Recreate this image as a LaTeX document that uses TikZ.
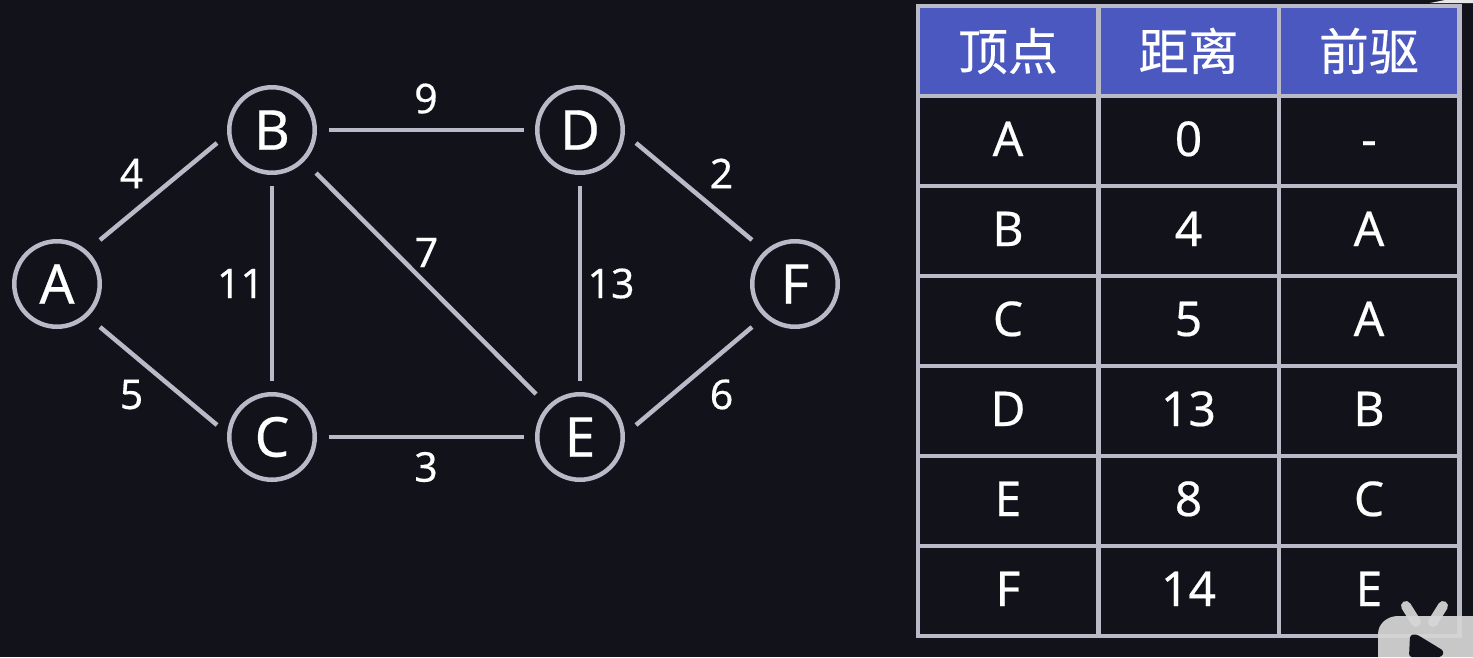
\documentclass[tikz,border=0pt]{standalone}
\usepackage{fontspec}
\setmainfont{Noto Sans}[FakeBold=0.4]
\newfontfamily\cjk{Noto Sans CJK SC}[FakeBold=0.4]
\definecolor{bgc}{HTML}{11121A}
\definecolor{linec}{HTML}{B9B9C7}
\definecolor{headc}{HTML}{4A58C0}
\definecolor{logoc}{HTML}{D6D6D6}
\tikzset{
  vertex/.style={circle,draw=linec,line width=4.5pt,fill=bgc,minimum size=85.5pt,inner sep=0pt,text=white,font=\fontsize{55}{55}\selectfont},
  edge/.style={draw=linec,line width=4.5pt},
  weight/.style={text=white,inner sep=0pt,font=\fontsize{41}{41}\selectfont},
  cell/.style={draw=linec,line width=4.5pt,minimum width=180.5pt,minimum height=90pt,inner sep=0pt,text=white,text height=34pt,text depth=4pt,font=\fontsize{48}{48}\selectfont},
  headcell/.style={cell,fill=headc,text height=44pt,text depth=6pt,font=\fontsize{50}{50}\selectfont\cjk}
}
\begin{document}
\begin{tikzpicture}[x=1pt,y=-1pt]
\useasboundingbox[fill=bgc] (0,0) rectangle (1473,657);
% vertices
\node[vertex] (A) at (57,284) {A};
\node[vertex] (B) at (272,130) {B};
\node[vertex] (C) at (272,437) {C};
\node[vertex] (D) at (580,130) {D};
\node[vertex] (E) at (580,437) {E};
\node[vertex] (F) at (795,284) {F};
% edges
\draw[edge] ([shift={(43,-44)}]A.center) -- ([shift={(-55,13)}]B.center);
\draw[edge] ([shift={(43,43)}]A.center) -- ([shift={(-55,-12)}]C.center);
\draw[edge] ([shift={(57,0)}]B.center) -- ([shift={(-56,0)}]D.center);
\draw[edge] ([shift={(0,56)}]B.center) -- ([shift={(0,-56)}]C.center);
\draw[edge] ([shift={(44,43)}]B.center) -- ([shift={(-44,-43)}]E.center);
\draw[edge] ([shift={(0,56)}]D.center) -- ([shift={(0,-56)}]E.center);
\draw[edge] ([shift={(56,13)}]D.center) -- ([shift={(-43,-44)}]F.center);
\draw[edge] ([shift={(56,-12)}]E.center) -- ([shift={(-43,43)}]F.center);
\draw[edge] ([shift={(57,0)}]C.center) -- ([shift={(-56,0)}]E.center);
% weights
\node[weight] (w4) at (131.5,173.5) {4};
\node[weight] (w5) at (131.5,394.5) {5};
\node[weight] (w9) at (426,98.5) {9};
\node[weight] (w3) at (426,467) {3};
\node[weight] (w11) at (240.5,283.5) {11};
\node[weight] (w7) at (426.5,252.5) {7};
\node[weight] (w13) at (611,283.5) {13};
\node[weight] (w2) at (721.5,173.5) {2};
\node[weight] (w6) at (721.5,394.5) {6};
% table
\node[headcell] (h1) at (1008,51) {顶点};
\node[headcell] (h2) at (1188.5,51) {距离};
\node[headcell] (h3) at (1369,51) {前驱};
\node[cell] (a1) at (1008,141) {A};
\node[cell] (a2) at (1188.5,141) {0};
\node[cell] (a3) at (1369,141) {-};
\node[cell] (b1) at (1008,231) {B};
\node[cell] (b2) at (1188.5,231) {4};
\node[cell] (b3) at (1369,231) {A};
\node[cell] (c1) at (1008,321) {C};
\node[cell] (c2) at (1188.5,321) {5};
\node[cell] (c3) at (1369,321) {A};
\node[cell] (d1) at (1008,411) {D};
\node[cell] (d2) at (1188.5,411) {13};
\node[cell] (d3) at (1369,411) {B};
\node[cell] (e1) at (1008,501) {E};
\node[cell] (e2) at (1188.5,501) {8};
\node[cell] (e3) at (1369,501) {C};
\node[cell] (f1) at (1008,591) {F};
\node[cell] (f2) at (1188.5,591) {14};
\node[cell] (f3) at (1369,591) {E};
% watermark logo
\begin{scope}[opacity=.93]
\draw[logoc,line width=10pt,line cap=round] (1406,606) -- (1416,622);
\draw[logoc,line width=10pt,line cap=round] (1443,606) -- (1433,622);
\fill[logoc] (1378,657) -- (1378,634) to[out=90,in=180] (1398,616) -- (1473,616) -- (1473,657) -- cycle;
\end{scope}
\fill[bgc,rounded corners=3pt] (1409,657) -- (1410,635) -- (1416,634) -- (1444,651) -- (1442,657) -- cycle;
\fill[white,opacity=.9] (1430,3) -- (1445,0) -- (1473,0) -- (1473,3) -- cycle;
\end{tikzpicture}
\end{document}
